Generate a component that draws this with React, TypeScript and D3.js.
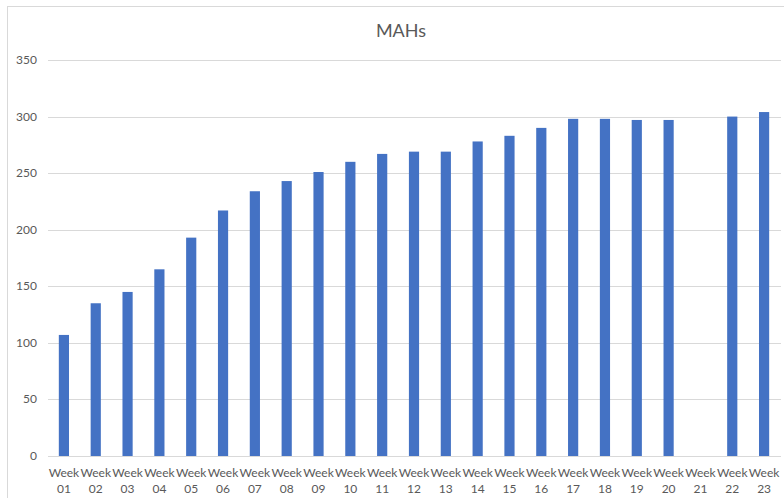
import React, { useEffect, useRef } from "react";
import * as d3 from "d3";

// MAHs per week - column chart

const weeks = ["01", "02", "03", "04", "05", "06", "07", "08", "09", "10", "11", "12",
  "13", "14", "15", "16", "17", "18", "19", "20", "21", "22", "23"];
const mahs: (number | null)[] = [107, 135, 145, 165, 193, 217, 234, 243, 251, 260, 267, 269,
  269, 278, 283, 290, 298, 298, 297, 297, null, 300, 304];
const yTicks = [0, 50, 100, 150, 200, 250, 300, 350];

export default function App() {
  const ref = useRef<SVGSVGElement>(null);

  useEffect(() => {
    const W = 784, H = 498;
    const margin = { top: 60, right: 4, bottom: 42, left: 48 };

    const svg = d3.select(ref.current).attr("width", W).attr("height", H);
    svg.selectAll("*").remove();

    // chart area border (only top/left visible in the crop)
    svg.append("rect")
      .attr("x", 7.5).attr("y", 6.5)
      .attr("width", 800).attr("height", 520)
      .attr("fill", "#fff")
      .attr("stroke", "#d9d9d9");

    svg.append("text")
      .attr("x", 401).attr("y", 37)
      .attr("text-anchor", "middle")
      .style("font-family", "Lato, 'Open Sans', sans-serif")
      .style("font-size", "18px")
      .style("fill", "#595959")
      .text("MAHs");

    const x = d3.scaleBand()
      .domain(weeks)
      .range([margin.left, W - margin.right])
      .paddingInner(0.68)
      .paddingOuter(0.34);

    const y = d3.scaleLinear().domain([0, 350]).range([H - margin.bottom, margin.top]);

    // gridlines
    svg.append("g").selectAll("line")
      .data(yTicks)
      .join("line")
      .attr("x1", margin.left).attr("x2", 781)
      .attr("y1", d => Math.round(y(d)) + 0.5)
      .attr("y2", d => Math.round(y(d)) + 0.5)
      .attr("stroke", "#d9d9d9")
      .attr("stroke-width", 1.2);

    // y labels
    svg.append("g").selectAll("text")
      .data(yTicks)
      .join("text")
      .attr("x", 37)
      .attr("y", d => y(d) + 4)
      .attr("text-anchor", "end")
      .style("font-family", "Lato, 'Open Sans', sans-serif")
      .style("font-size", "12px")
      .style("fill", "#595959")
      .text(d => d);

    // bars
    const rows = weeks.map((w, i) => ({ week: w, v: mahs[i] }));
    svg.append("g").selectAll("rect")
      .data(rows.filter(d => d.v !== null))
      .join("rect")
      .attr("x", d => x(d.week)!)
      .attr("width", x.bandwidth())
      .attr("y", d => y(d.v as number))
      .attr("height", d => y(0) - y(d.v as number))
      .attr("fill", "#4472c4");

    // x labels, two lines
    const xl = svg.append("g").selectAll("text")
      .data(weeks)
      .join("text")
      .attr("text-anchor", "middle")
      .style("font-family", "Lato, 'Open Sans', sans-serif")
      .style("font-size", "12px")
      .style("fill", "#595959");
    xl.append("tspan")
      .attr("x", d => x(d)! + x.bandwidth() / 2)
      .attr("y", 477)
      .text("Week");
    xl.append("tspan")
      .attr("x", d => x(d)! + x.bandwidth() / 2)
      .attr("y", 493)
      .text(d => d);
  }, []);

  return (
    <svg ref={ref} style={{ position: "absolute", left: 0, top: 0, display: "block" }}></svg>
  );
}
